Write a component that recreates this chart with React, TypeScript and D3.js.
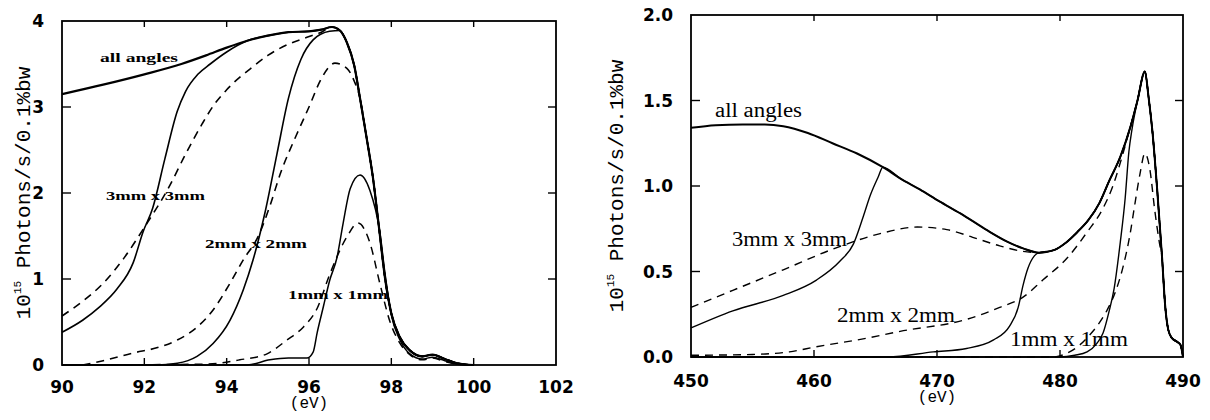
import React from "react";
import * as d3 from "d3";

type P = [number, number];

// ---------- Left panel (90–102 eV) ----------
const L_X_TICKS = [90, 92, 94, 96, 98, 100, 102];
const L_Y_TICKS = [0, 1, 2, 3, 4];

const L_ALL_HEAD: P[] = [[90, 3.15], [91, 3.26], [92, 3.38], [92.9, 3.5], [93.5, 3.6], [94, 3.69], [94.5, 3.77], [95, 3.83], [95.5, 3.87], [96, 3.88], [96.3, 3.9]];
const L_DESCENT: P[] = [[96.56, 3.93], [96.75, 3.89], [96.92, 3.75], [97.1, 3.48], [97.24, 3.1], [97.4, 2.64], [97.55, 2.19], [97.7, 1.6], [97.85, 1.0], [98.0, 0.6], [98.2, 0.33], [98.45, 0.17], [98.75, 0.1], [99.0, 0.12], [99.3, 0.07], [99.6, 0.02], [100, 0]];
const L_3S_HEAD: P[] = [[90, 0.38], [90.5, 0.52], [90.9, 0.67], [91.33, 0.88], [91.73, 1.19], [91.97, 1.55], [92.2, 1.82], [92.5, 2.4], [92.8, 2.95], [93.0, 3.18], [93.3, 3.38], [93.6, 3.5], [94.0, 3.64]];
const L_3D_HEAD: P[] = [[90, 0.57], [90.5, 0.74], [91, 0.95], [91.5, 1.24], [92, 1.6], [92.6, 2.07], [93, 2.45], [93.4, 2.8], [93.7, 3.03], [94, 3.2], [94.64, 3.47], [95, 3.6], [95.5, 3.73], [95.95, 3.81], [96.3, 3.87]];
const L_2S_HEAD: P[] = [[90, 0], [92.3, 0], [92.8, 0.02], [93.28, 0.1], [93.67, 0.25], [94.08, 0.52], [94.4, 0.87], [94.64, 1.22], [94.93, 1.77], [95.22, 2.45], [95.5, 3.1], [95.8, 3.55], [96.1, 3.78], [96.5, 3.88]];
const L_2D_HEAD: P[] = [[90.5, 0], [91, 0.05], [91.73, 0.14], [92.3, 0.2], [92.8, 0.29], [93.28, 0.44], [93.67, 0.64], [94.08, 0.95], [94.4, 1.22], [94.77, 1.5], [95.05, 1.85], [95.3, 2.22], [95.7, 2.68], [96.0, 3.0], [96.3, 3.33], [96.63, 3.51], [96.92, 3.45], [97.1, 3.3]];
const L_1S: P[] = [[90, 0], [94.5, 0], [95.05, 0.06], [95.5, 0.08], [95.95, 0.08], [96.1, 0.15], [96.2, 0.38], [96.35, 0.68], [96.5, 0.98], [96.68, 1.25], [96.83, 1.65], [97.0, 2.05], [97.24, 2.21], [97.48, 2.03], [97.72, 1.55], [97.85, 1.05], [98.0, 0.58], [98.2, 0.3], [98.45, 0.13], [98.75, 0.07], [99.0, 0.09], [99.3, 0.05], [99.6, 0.01], [100, 0]];
const L_1D: P[] = [[90.5, 0], [93.5, 0.01], [94.32, 0.06], [94.98, 0.13], [95.46, 0.29], [95.86, 0.44], [96.2, 0.66], [96.5, 1.05], [96.92, 1.49], [97.19, 1.65], [97.48, 1.42], [97.72, 0.95], [97.97, 0.5], [98.2, 0.26], [98.45, 0.12], [98.75, 0.06], [99.0, 0.08], [99.3, 0.04], [99.6, 0.01], [100, 0]];

// ---------- Right panel (450–490 eV) ----------
const R_X_TICKS = [450, 460, 470, 480, 490];
const R_Y_TICKS = [0, 0.5, 1, 1.5, 2];

const R_ALL: P[] = [[450, 1.34], [452, 1.355], [454.2, 1.36], [456, 1.36], [457.5, 1.35], [459.5, 1.31], [461.5, 1.25], [463.5, 1.19], [465.6, 1.11], [467, 1.045], [468.6, 0.98], [470.2, 0.91], [471.9, 0.84], [474.1, 0.74], [475.7, 0.675], [477, 0.635], [478.3, 0.61], [479.5, 0.625], [480.5, 0.67], [481.4, 0.73], [482.3, 0.8], [483.2, 0.9], [484, 1.03], [484.9, 1.17], [485.7, 1.34], [486.3, 1.5], [486.9, 1.67], [487.2, 1.52], [487.5, 1.33], [487.9, 0.98], [488.3, 0.58], [488.55, 0.3], [488.8, 0.16], [489.1, 0.11], [489.5, 0.09], [489.8, 0.07], [490, 0]];
const R_3S_HEAD: P[] = [[450, 0.17], [453.4, 0.27], [457.5, 0.36], [460.2, 0.45], [462.1, 0.56], [463.2, 0.66], [464, 0.82], [464.6, 0.95], [465.2, 1.05]];
const R_3D_HEAD: P[] = [[450, 0.29], [453.4, 0.39], [457.5, 0.51], [461.5, 0.63], [465.3, 0.72], [468.4, 0.76], [470.8, 0.745], [472.9, 0.7], [475.1, 0.65], [476.8, 0.62]];
const R_2S_HEAD: P[] = [[450, 0], [466, 0], [469.7, 0.03], [472.4, 0.05], [474.6, 0.1], [475.9, 0.18], [476.6, 0.29], [477.0, 0.42], [477.4, 0.52], [477.9, 0.59]];
const R_2D_HEAD: P[] = [[450, 0.01], [455, 0.015], [458, 0.03], [460.2, 0.06], [464.3, 0.11], [467, 0.15], [472.4, 0.22], [475.1, 0.29], [477, 0.35], [478.6, 0.45], [480.6, 0.58], [482.2, 0.73], [483.5, 0.87], [484.3, 1.0], [485, 1.16]];
const R_1S_HEAD: P[] = [[450, 0], [480, 0], [481.2, 0.01], [482.2, 0.03], [483.0, 0.08], [483.5, 0.14], [484.0, 0.27], [484.4, 0.4], [484.9, 0.67], [485.3, 0.93], [485.6, 1.2], [485.85, 1.33]];
const R_1D_HEAD: P[] = [[450, 0], [479.5, 0], [480.5, 0.02], [481.6, 0.07], [482.3, 0.12], [483, 0.18], [483.8, 0.27], [484.5, 0.38], [485.1, 0.52], [485.7, 0.72], [486.1, 0.9], [486.5, 1.07], [486.9, 1.19], [487.3, 1.1], [487.7, 0.86], [488.1, 0.66]];

const L_LABELS = [
  { text: "all angles", x: 100, y: 62, len: 78 },
  { text: "3mm x 3mm", x: 106, y: 200, len: 99 },
  { text: "2mm x 2mm", x: 205, y: 248, len: 102 },
  { text: "1mm x 1mm", x: 288, y: 299, len: 100 },
];
const R_LABELS = [
  { text: "all angles", x: 715, y: 117, len: 87 },
  { text: "3mm x 3mm", x: 732, y: 246, len: 115 },
  { text: "2mm x 2mm", x: 837, y: 322, len: 118 },
  { text: "1mm x 1mm", x: 1010, y: 346, len: 118 },
];

const after = (arr: P[], x0: number) => arr.filter((p) => p[0] >= x0);

const leftSeries = [
  { d: L_ALL_HEAD.concat(L_DESCENT), dash: false, w: 2.2 },
  { d: L_3S_HEAD.concat(after(L_ALL_HEAD, 94.5), L_DESCENT), dash: false, w: 1.6 },
  { d: L_3D_HEAD.concat(L_DESCENT), dash: true, w: 1.6 },
  { d: L_2S_HEAD.concat(after(L_DESCENT, 96.75)), dash: false, w: 1.6 },
  { d: L_2D_HEAD.concat(after(L_DESCENT, 97.24)), dash: true, w: 1.6 },
  { d: L_1S, dash: false, w: 1.5 },
  { d: L_1D, dash: true, w: 1.5 },
];
const rightSeries = [
  { d: R_ALL, dash: false, w: 2 },
  { d: R_3S_HEAD.concat(after(R_ALL, 465.6)), dash: false, w: 1.4 },
  { d: R_3D_HEAD.concat(after(R_ALL, 478.3)), dash: true, w: 1.4 },
  { d: R_2S_HEAD.concat(after(R_ALL, 478.3)), dash: false, w: 1.4 },
  { d: R_2D_HEAD.concat(after(R_ALL, 485.7)), dash: true, w: 1.4 },
  { d: R_1S_HEAD.concat(after(R_ALL, 486.3)), dash: false, w: 1.4 },
  { d: R_1D_HEAD.concat(after(R_ALL, 488.3)), dash: true, w: 1.4 },
];

const TICK_FONT = "'DejaVu Sans', sans-serif";
const MONO = "'Liberation Mono', 'DejaVu Sans Mono', monospace";

function Panel(props: {
  x: d3.ScaleLinear<number, number>;
  y: d3.ScaleLinear<number, number>;
  xticks: number[];
  yticks: number[];
  yfmt: (v: number) => string;
  series: { d: P[]; dash: boolean; w: number }[];
  xLabelBase: number;
  titleX: number;
}) {
  const { x, y, xticks, yticks, yfmt, series, xLabelBase, titleX } = props;
  const [x0, x1] = x.range();
  const [y0, y1] = y.range();
  const line = d3
    .line<P>()
    .x((p) => x(p[0]))
    .y((p) => y(p[1]))
    .curve(d3.curveMonotoneX);
  const innerX = xticks.slice(1, -1);
  const innerY = yticks.slice(1, -1);
  const cx = (x0 + x1) / 2;
  const cy = (y0 + y1) / 2;
  return (
    <g>
      {series.map((s, i) => (
        <path
          key={i}
          d={line(s.d) || ""}
          fill="none"
          stroke="#000"
          strokeWidth={s.w}
          strokeDasharray={s.dash ? "8,6" : undefined}
          strokeLinejoin="round"
        />
      ))}
      <rect x={x0} y={y1} width={x1 - x0} height={y0 - y1} fill="none" stroke="#000" strokeWidth={1.8} />
      {innerX.map((t) => (
        <g key={"xt" + t}>
          <line x1={x(t)} x2={x(t)} y1={y0} y2={y0 - 7} stroke="#000" strokeWidth={1.4} />
          <line x1={x(t)} x2={x(t)} y1={y1} y2={y1 + 6} stroke="#000" strokeWidth={1.4} />
        </g>
      ))}
      {innerY.map((t) => (
        <g key={"yt" + t}>
          <line x1={x0} x2={x0 + 9} y1={y(t)} y2={y(t)} stroke="#000" strokeWidth={1.4} />
          <line x1={x1} x2={x1 - 8} y1={y(t)} y2={y(t)} stroke="#000" strokeWidth={1.4} />
        </g>
      ))}
      {xticks.map((t) => (
        <text key={"xl" + t} x={x(t)} y={xLabelBase} textAnchor="middle" fontFamily={TICK_FONT} fontWeight="bold" fontSize={17}>
          {t}
        </text>
      ))}
      {yticks.map((t) => (
        <text key={"yl" + t} x={x0 - 18} y={y(t) + 6} textAnchor="end" fontFamily={TICK_FONT} fontWeight="bold" fontSize={17}>
          {yfmt(t)}
        </text>
      ))}
      <text x={cx} y={xLabelBase + 15} textAnchor="middle" fontFamily={MONO} fontSize={16}>
        (eV)
      </text>
      <text transform={`translate(${titleX},${cy}) rotate(-90)`} textAnchor="middle" fontFamily={MONO} fontSize={21}>
        10
        <tspan fontSize={11} dy={-9}>15</tspan>
        <tspan dy={9}> Photons/s/0.1%bw</tspan>
      </text>
    </g>
  );
}

export default function App() {
  const xL = d3.scaleLinear().domain([90, 102]).range([62, 556]);
  const yL = d3.scaleLinear().domain([0, 4]).range([365, 21]);
  const xR = d3.scaleLinear().domain([450, 490]).range([691, 1183]);
  const yR = d3.scaleLinear().domain([0, 2]).range([357, 15]);
  return (
    <svg
      width={1210}
      height={420}
      viewBox="0 0 1210 420"
      style={{ position: "absolute", left: 0, top: 0, background: "#fff" }}
    >
      <rect x={0} y={0} width={1210} height={420} fill="#fff" />
      <Panel x={xL} y={yL} xticks={L_X_TICKS} yticks={L_Y_TICKS} yfmt={(v) => String(v)} series={leftSeries} xLabelBase={393} titleX={30} />
      <Panel x={xR} y={yR} xticks={R_X_TICKS} yticks={R_Y_TICKS} yfmt={d3.format(".1f")} series={rightSeries} xLabelBase={387} titleX={623} />
      {L_LABELS.map((l) => (
        <text key={l.text} x={l.x} y={l.y} fontFamily="'Liberation Serif', serif" fontWeight="bold" fontSize={12} textLength={l.len} lengthAdjust="spacingAndGlyphs">
          {l.text}
        </text>
      ))}
      {R_LABELS.map((l) => (
        <text key={"r" + l.text} x={l.x} y={l.y} fontFamily="'Liberation Serif', serif" fontSize={20} textLength={l.len} lengthAdjust="spacingAndGlyphs">
          {l.text}
        </text>
      ))}
    </svg>
  );
}
